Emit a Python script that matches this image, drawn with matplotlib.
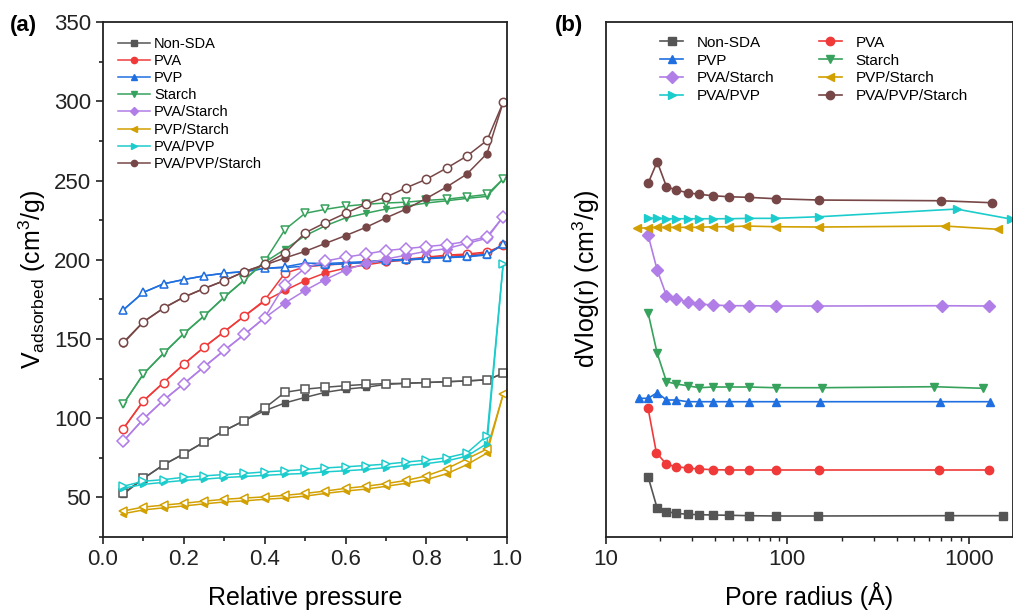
import numpy as np
import matplotlib
matplotlib.use('Agg')
import matplotlib.pyplot as plt
from matplotlib.ticker import MultipleLocator, NullFormatter, LogLocator

plt.rcParams['font.family'] = ['Liberation Sans', 'DejaVu Sans']

# ---------- (a) isotherms ----------
p = [0.05, 0.10, 0.15, 0.20, 0.25, 0.30, 0.35, 0.40, 0.45, 0.50,
     0.55, 0.60, 0.65, 0.70, 0.75, 0.80, 0.85, 0.90, 0.95, 0.99]

names = ['Non-SDA', 'PVA', 'PVP', 'Starch', 'PVA/Starch', 'PVP/Starch',
         'PVA/PVP', 'PVA/PVP/Starch']
colors = ['#555555', '#f03a3a', '#1f6fe0', '#36a25c', '#b07ee6', '#d2a000',
          '#1ccccc', '#774646']
markers = ['s', 'o', '^', 'v', 'D', '<', '>', 'o']

# adsorption branch (filled markers)
ads_nonsda = [52, 61.9, 70.6, 77.5, 84.9, 92.1, 98.5, 104.7, 109.6, 113.1,
              116.3, 118.3, 119.5, 121.3, 122, 122.5, 123, 123.5, 124.2, 128.2]
ads_pva = [93.3, 110.9, 122.5, 134.1, 144.8, 154.6, 164.5, 173.9, 180.6, 186.8,
           191.7, 194.7, 196.7, 198.7, 199.7, 201, 202.1, 202.9, 204.1, 209]
ads_pvp = [168.3, 179.4, 184.8, 187.5, 189.8, 191.5, 192.5, 194.5, 195, 196,
           196.8, 197.5, 198.2, 199.2, 199.8, 200.6, 201.3, 201.8, 203, 209.8]
ads_starch = [108.9, 127.9, 141, 153.4, 164.5, 176.4, 187.3, 198.4, 206.6, 215.2,
              221.4, 226.4, 229.3, 232, 233.8, 235.8, 237.2, 238.7, 240, 251]
ads_pvastarch = [85.4, 99.5, 111.4, 121.8, 132.4, 142.8, 152.9, 163.3, 172.7, 180.6,
                 187.5, 193.5, 197.7, 200.4, 202.9, 205.3, 207, 210.3, 213.5, 227.1]
ads_pvpstarch = [39.7, 42.1, 43.4, 44.6, 45.9, 47.1, 47.8, 48.8, 49.6, 50.8,
                 52.5, 54, 55.2, 57, 58.9, 61.2, 64.9, 70.6, 78, 115]
ads_pvapvp = [55.8, 58.2, 59.5, 60.7, 61.5, 62.5, 63.2, 63.9, 64.6, 65.1,
              66.1, 66.8, 67.6, 68.8, 70.1, 71.3, 73, 76, 84, 197.4]
ads_all = [147.2, 160.8, 169.5, 176.4, 181.8, 186.8, 192.5, 196.7, 201.1, 205.3,
           210.3, 215.2, 220.4, 226.4, 232, 238.7, 245.9, 254, 267, 299.3]

# desorption branch (open markers)
des_nonsda = [52.5, 62, 70.6, 77.5, 84.9, 92.1, 98.5, 106.4, 116.3, 118.3,
              119.5, 120.5, 121.3, 121.8, 122, 122.5, 123, 123.5, 124.2, 128.2]
des_pva = [93.3, 110.9, 122.5, 134.1, 144.8, 154.6, 164.5, 174.5, 191.5, 195.5,
           196.7, 197.4, 198.4, 199.7, 200.3, 201.6, 202.9, 203.6, 204.9, 209]
des_pvp = [168.3, 179.4, 184.8, 187.5, 189.8, 191.5, 192.5, 194.5, 195.5, 197.9,
           197.6, 198.2, 198.8, 199.7, 200.2, 201, 201.6, 202.1, 203.4, 209.8]
des_starch = [108.9, 127.9, 141, 153.4, 164.5, 176.4, 187.3, 199, 219, 229.3,
              231.8, 233.8, 235, 235.8, 236.3, 237.5, 238.2, 239.7, 241.2, 251]
des_pvastarch = [85.4, 99.5, 111.4, 121.8, 132.4, 142.8, 152.9, 163.5, 184.3, 194.7,
                 199.2, 201.6, 203.6, 205.8, 207, 208.3, 209.5, 211.5, 214.5, 227.1]
des_pvpstarch = [41.4, 43.9, 45.1, 46.3, 47.6, 48.8, 49.6, 50.3, 51.3, 52.5,
                 54, 55.7, 57, 58.7, 60.7, 63.6, 68.1, 74.3, 80.5, 115]
des_pvapvp = [57, 60.2, 61.2, 62.7, 63.6, 64.4, 65.1, 66.1, 66.8, 67.6,
              68.6, 69.3, 70.1, 71, 72.3, 73.5, 75, 78, 89, 197.4]
des_all = [147.8, 160.8, 169.5, 176.4, 181.8, 186.8, 192.5, 197, 204.1, 217,
           223.4, 229.3, 235, 239.5, 245.4, 250.8, 257.8, 265.4, 275.3, 299.3]

ads = [ads_nonsda, ads_pva, ads_pvp, ads_starch, ads_pvastarch, ads_pvpstarch,
       ads_pvapvp, ads_all]
des = [des_nonsda, des_pva, des_pvp, des_starch, des_pvastarch, des_pvpstarch,
       des_pvapvp, des_all]

# ---------- (b) pore size distribution (arbitrary offset units) ----------
r_nonsda = [17.1, 19.2, 21.6, 24.5, 28.2, 32.7, 39.0, 47.8, 61.3, 86.4, 147, 778, 1535]
v_nonsda = [60.3, 28.7, 25.3, 23.7, 22.7, 22.3, 22, 21.7, 21.3, 21, 21, 21.3, 21.3]
r_pva = [17.1, 19.0, 21.6, 24.5, 28.2, 32.7, 39.0, 47.8, 61.3, 86.4, 149, 686, 1295]
v_pva = [128.7, 84.3, 72.7, 70.3, 69, 68, 67.3, 67, 67, 67, 67, 67, 67]
r_pvp = [15.3, 17.1, 19.2, 21.6, 24.5, 28.2, 32.7, 39.0, 47.8, 61.3, 86.4, 152, 692, 1305]
v_pvp = [138.7, 138.7, 144.3, 137, 137, 135.3, 135.3, 135.3, 135.3, 135.3, 135.3,
         135.3, 135.3, 135.3]
r_starch = [17.1, 19.2, 21.6, 24.5, 28.2, 32.7, 39.0, 47.8, 61.3, 86.4, 155, 644, 1200]
v_starch = [224.3, 183.7, 155.3, 153, 151.3, 149.3, 150, 150, 150, 149.3, 149.3,
            150.3, 148.7]
r_pvastarch = [17.1, 19.2, 21.6, 24.5, 28.2, 32.7, 39.0, 47.8, 61.3, 86.4, 146, 708, 1295]
v_pvastarch = [302, 267, 241.3, 238, 235, 233, 232, 231.3, 231.3, 231, 231, 231.3, 231]
r_pvpstarch = [14.9, 17.1, 19.2, 21.6, 24.5, 28.2, 32.7, 39.0, 47.8, 59.5, 86.4, 150,
               738, 1452]
v_pvpstarch = [308.7, 309.3, 309.7, 309.7, 309.7, 309.7, 309.7, 310.3, 310.3, 311,
               310.3, 310, 311, 307.7]
r_pvapvp = [17.1, 19.2, 21.6, 24.5, 28.2, 32.7, 39.0, 47.8, 61.3, 85.3, 150, 855, 1702]
v_pvapvp = [318.7, 318.7, 318.3, 318.3, 318.3, 318.3, 318.3, 318.3, 318.7, 318.7,
            320.3, 328, 318]
r_all = [17.1, 19.2, 21.6, 24.5, 28.2, 32.7, 39.0, 47.8, 61.3, 86.4, 149, 705, 1340]
v_all = [353.7, 375.3, 350.3, 347, 344.3, 342.7, 341.3, 340.3, 339.7, 338.3, 337,
         336.3, 334.3]

r_list = [r_nonsda, r_pva, r_pvp, r_starch, r_pvastarch, r_pvpstarch, r_pvapvp, r_all]
v_list = [v_nonsda, v_pva, v_pvp, v_starch, v_pvastarch, v_pvpstarch, v_pvapvp, v_all]

fig = plt.figure(figsize=(10.13, 6.13), dpi=100)
ax1 = fig.add_axes([0.1017, 0.124, 0.399, 0.840])
ax2 = fig.add_axes([0.598, 0.124, 0.402, 0.840])

for i in range(len(names)):
    ax1.plot(p, ads[i], color=colors[i], marker=markers[i], markersize=5,
             lw=1.1, label=names[i], markeredgecolor=colors[i])
    ax1.plot(p, des[i], color=colors[i], marker=markers[i], markersize=6,
             lw=1.1, markerfacecolor='white', markeredgecolor=colors[i],
             markeredgewidth=1.1)

ax1.set_xlim(0.0, 1.0)
ax1.set_ylim(25, 350)
ax1.xaxis.set_major_locator(MultipleLocator(0.2))
ax1.xaxis.set_minor_locator(MultipleLocator(0.1))
ax1.yaxis.set_major_locator(MultipleLocator(50))
ax1.yaxis.set_minor_locator(MultipleLocator(25))
ax1.xaxis.set_major_formatter(plt.FormatStrFormatter('%.1f'))
ax1.tick_params(which='both', direction='out', top=False, right=False,
                labelsize=16, colors='#222222')
ax1.tick_params(which='major', length=5, width=1.2)
ax1.tick_params(which='minor', length=3, width=1.2)
ax1.set_xlabel('Relative pressure', fontsize=18, labelpad=12)
ax1.set_ylabel(r'V$_{\mathregular{adsorbed}}$ (cm$^{\mathregular{3}}$/g)',
               fontsize=18, labelpad=4)
ax1.legend(loc='upper left', frameon=False, fontsize=10.5, labelspacing=0.22,
           handlelength=2.2, handletextpad=0.3, borderaxespad=0.6,
           markerscale=0.9)
for s in ax1.spines.values():
    s.set_linewidth(1.3)
    s.set_color('#222222')

for i in range(len(names)):
    ax2.plot(r_list[i], v_list[i], color=colors[i], marker=markers[i],
             markersize=6, lw=1.2, label=names[i])

ax2.set_xscale('log')
ax2.set_xlim(10, 1750)
ax2.set_ylim(0, 515)
ax2.set_yticks([])
ax2.xaxis.set_major_locator(LogLocator(base=10))
ax2.xaxis.set_minor_locator(LogLocator(base=10, subs=np.arange(2, 10)))
ax2.xaxis.set_minor_formatter(NullFormatter())
ax2.xaxis.set_major_formatter(plt.FuncFormatter(lambda v, pos: '%d' % v))
ax2.tick_params(which='both', direction='out', top=False, right=False,
                labelsize=16, colors='#222222')
ax2.tick_params(which='major', length=5, width=1.2)
ax2.tick_params(which='minor', length=3, width=1.0)
ax2.set_xlabel('Pore radius (\u00c5)', fontsize=18, labelpad=9)
ax2.set_ylabel('dVlog(r) (cm$^{\mathregular{3}}$/g)', fontsize=18, labelpad=3)

# row-wise legend order: matplotlib fills columns first
handles, labels = ax2.get_legend_handles_labels()
order = [0, 2, 4, 6, 1, 3, 5, 7]
ax2.legend([handles[k] for k in order], [labels[k] for k in order],
           loc='upper left', ncol=2, frameon=False, fontsize=11,
           labelspacing=0.25, handlelength=1.5, handletextpad=0.9,
           columnspacing=2.9, bbox_to_anchor=(0.1, 1.0))
for s in ax2.spines.values():
    s.set_linewidth(1.3)
    s.set_color('#222222')

fig.text(0.010, 0.950, '(a)', fontsize=16, fontweight='bold')
fig.text(0.548, 0.950, '(b)', fontsize=16, fontweight='bold')

fig.savefig('out.png', dpi=100)
